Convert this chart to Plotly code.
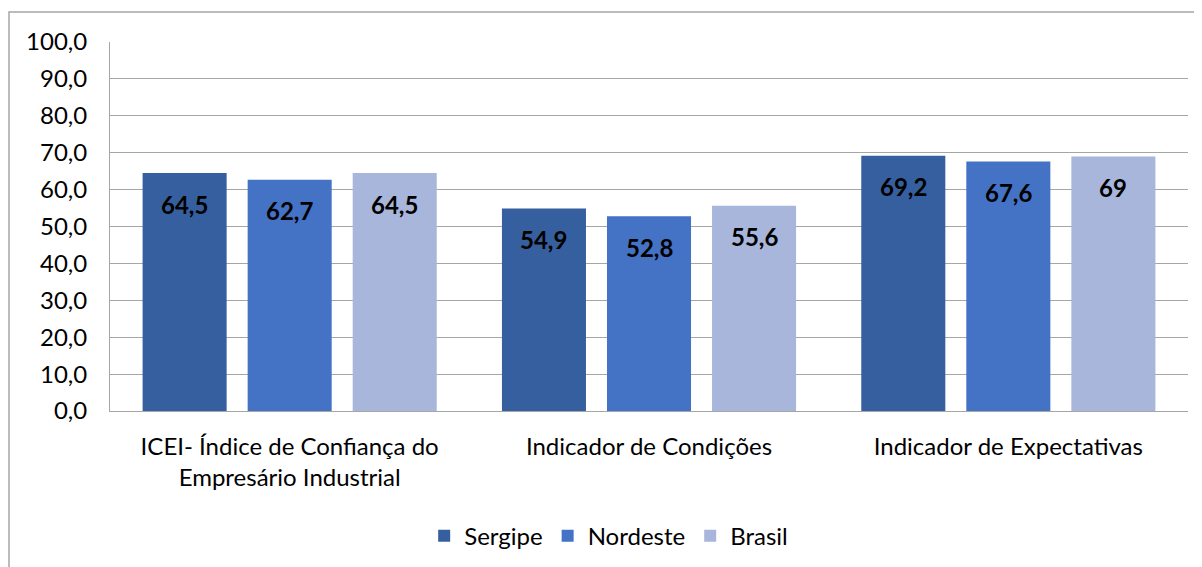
import plotly.graph_objects as go

categories = ["ICEI- Índice de Confiança do<br>Empresário Industrial",
              "Indicador de Condições",
              "Indicador de Expectativas"]
series_names = ["Sergipe", "Nordeste", "Brasil"]
sergipe = [64.5, 54.9, 69.2]
nordeste = [62.7, 52.8, 67.6]
brasil = [64.5, 55.6, 69.0]
colors = ["#365F9F", "#4472C4", "#A9B6DB"]

def lab(v):
    return f"{v:g}".replace(".", ",")

W, H = 1202, 567
ML, MR, MT, MB = 102, 22, 34, 164
BARGAP, GROUPGAP = 0.123, 0.2
plot_w = W - ML - MR

fig = go.Figure()
all_series = [sergipe, nordeste, brasil]
for name, vals, c in zip(series_names, all_series, colors):
    fig.add_trace(go.Bar(
        name=name, x=categories, y=vals, marker=dict(color=c, line=dict(width=0)),
    ))

# data labels placed inside the top of each bar
cat_w = plot_w / len(categories)
slot = cat_w * (1 - BARGAP) / len(all_series)
for i, vals in enumerate(all_series):
    off = (i - (len(all_series) - 1) / 2) * slot
    for cat, v in zip(categories, vals):
        fig.add_annotation(x=cat, y=v, xref="x", yref="y", text=lab(v),
                           showarrow=False, xshift=off, yshift=-31,
                           font=dict(family="Lato", size=24, color="black", weight="bold"))

fig.update_layout(
    width=W, height=H,
    margin=dict(l=ML, r=MR, t=MT, b=MB),
    paper_bgcolor="white", plot_bgcolor="white",
    separators=",.",
    barmode="group", bargap=BARGAP, bargroupgap=GROUPGAP,
    font=dict(family="Lato", size=24, color="black"),
    showlegend=True,
    legend=dict(orientation="h", x=0.4626, xanchor="center", y=-0.339, yanchor="middle",
                font=dict(size=24), itemwidth=30, traceorder="normal"),
)
fig.update_yaxes(range=[0, 100], dtick=10, tickformat=".1f", showgrid=True,
                 gridcolor="#A6A6A6", gridwidth=1, showline=True, linecolor="#A6A6A6",
                 ticklabelstandoff=17, zeroline=False, tickfont=dict(size=24))
fig.update_xaxes(showline=True, linecolor="#A6A6A6", ticks="", ticklabelstandoff=14,
                 tickfont=dict(size=24))

# outer chart border
fig.add_shape(type="rect", xref="paper", yref="paper",
              x0=(1 - ML) / plot_w, x1=1.05, y0=-0.6, y1=(H - MB - 4) / (H - MT - MB),
              line=dict(color="#A6A6A6", width=1.5), fillcolor="rgba(0,0,0,0)", layer="below")

fig.write_html("out.html")
